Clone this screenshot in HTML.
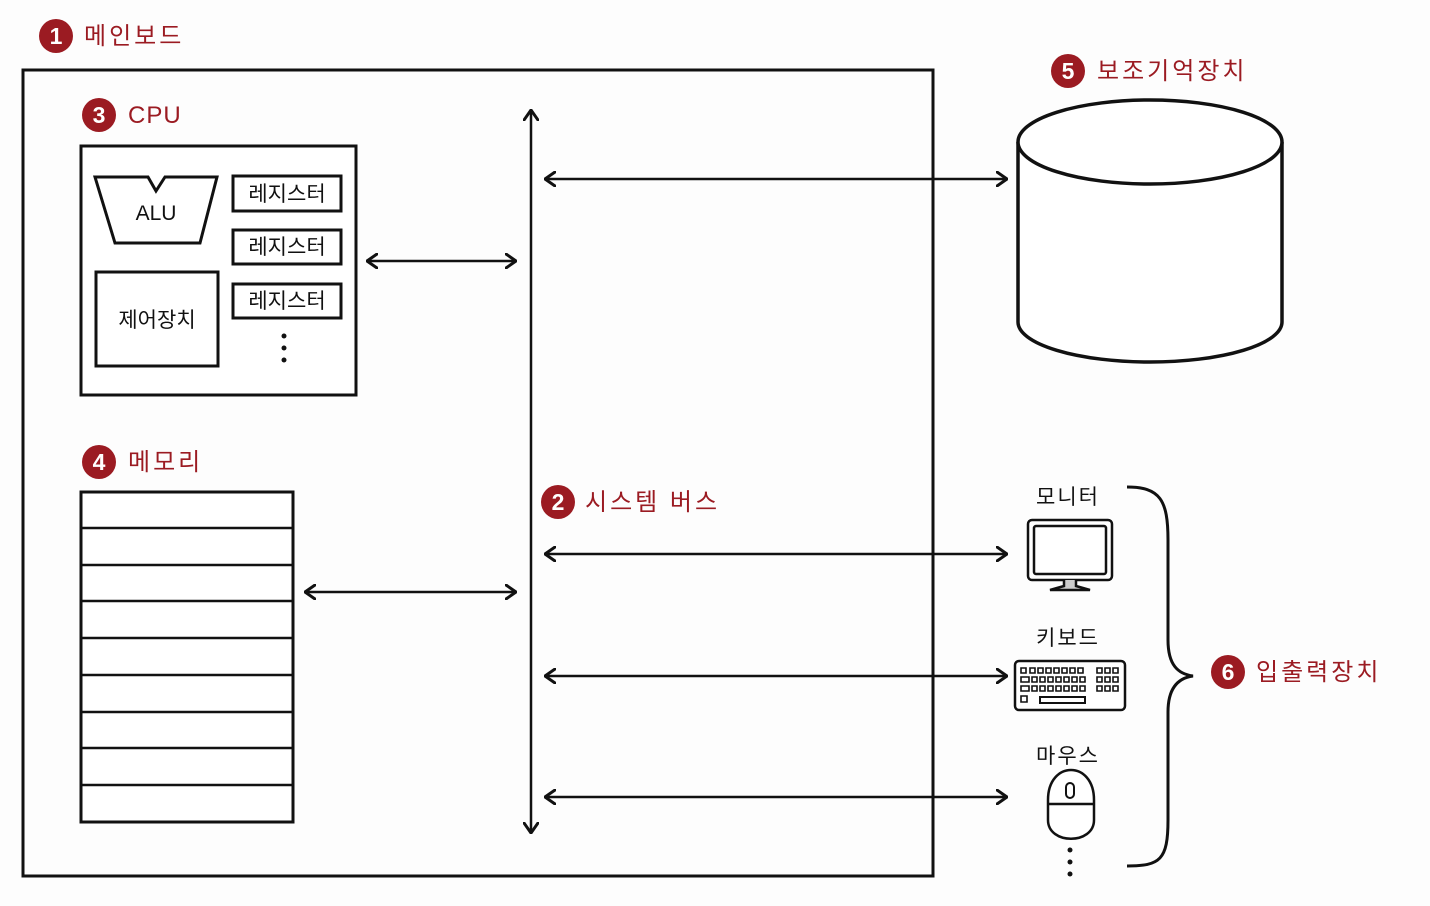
<!DOCTYPE html>
<html><head><meta charset="utf-8"><style>
html,body{margin:0;padding:0;background:#fdfdfd;}
svg{display:block}
text{font-family:"Liberation Sans","Noto Sans CJK KR",sans-serif;}
</style></head><body>
<svg width="1430" height="906" viewBox="0 0 1430 906" xmlns="http://www.w3.org/2000/svg">
<defs>
<marker id="ah" viewBox="0 0 12 16" refX="11" refY="8" markerWidth="12" markerHeight="16" markerUnits="userSpaceOnUse" orient="auto-start-reverse">
<path d="M1,1 L11,8 L1,15" fill="none" stroke="#111" stroke-width="3" stroke-linecap="round" stroke-linejoin="round"/>
</marker>
</defs>
<g fill="#fff" stroke="#111" stroke-width="3">
<rect x="23" y="70" width="910" height="806" fill="none"/>
<rect x="81" y="146" width="275" height="249"/>
<path d="M95,177 L148,177 L156,191 L165,177 L217,177 L200,243 L115,243 Z"/>
<rect x="233" y="176" width="108" height="35"/>
<rect x="233" y="230" width="108" height="34"/>
<rect x="233" y="284" width="108" height="34"/>
<rect x="96" y="272" width="122" height="94"/>
<rect x="81" y="492" width="212" height="330"/>
</g>
<g stroke="#111" stroke-width="2.5">
<line x1="81" y1="528" x2="293" y2="528"/><line x1="81" y1="565" x2="293" y2="565"/>
<line x1="81" y1="601" x2="293" y2="601"/><line x1="81" y1="638" x2="293" y2="638"/>
<line x1="81" y1="675" x2="293" y2="675"/><line x1="81" y1="712" x2="293" y2="712"/>
<line x1="81" y1="748" x2="293" y2="748"/><line x1="81" y1="785" x2="293" y2="785"/>
</g>
<g fill="#111"><circle cx="284" cy="336" r="2.5"/><circle cx="284" cy="348" r="2.5"/><circle cx="284" cy="360" r="2.5"/>
<circle cx="1070" cy="850" r="2.5"/><circle cx="1070" cy="862" r="2.5"/><circle cx="1070" cy="874" r="2.5"/></g>
<g stroke="#111" stroke-width="2.5" fill="none" marker-start="url(#ah)" marker-end="url(#ah)">
<line x1="531" y1="110" x2="531" y2="833"/>
<line x1="367" y1="261" x2="516" y2="261"/>
<line x1="305" y1="592" x2="516" y2="592"/>
<line x1="545" y1="179" x2="1007" y2="179"/>
<line x1="545" y1="554" x2="1007" y2="554"/>
<line x1="545" y1="676" x2="1007" y2="676"/>
<line x1="545" y1="797" x2="1007" y2="797"/>
</g>
<g stroke="#111" stroke-width="3.5" fill="#fff">
<path d="M1018,142 L1018,322 A132,40 0 0 0 1282,322 L1282,142"/>
<ellipse cx="1150" cy="142" rx="132" ry="42"/>
</g>
<g stroke="#111" stroke-width="2.5" fill="#fff">
<rect x="1028" y="520" width="84" height="60" rx="4"/>
<rect x="1034" y="526" width="72" height="48" rx="2"/>
<path d="M1064,580 L1064,586 L1050,590 L1090,590 L1076,586 L1076,580" fill="#ccc"/>
<rect x="1015" y="661" width="110" height="49" rx="4"/>
<rect x="1040" y="697" width="45" height="6" fill="none" stroke-width="2"/>
<path d="M1048,800 C1048,760 1094,760 1094,800 L1094,820 C1094,845 1048,845 1048,820 Z"/>
<line x1="1048" y1="804" x2="1094" y2="804"/>
<rect x="1066" y="783" width="8" height="15" rx="4" stroke-width="2"/>
</g>
<g fill="none" stroke="#111" stroke-width="1.6">
<path d="M1021,668h5v5h-5zM1030,668h5v5h-5zM1038,668h5v5h-5zM1046,668h5v5h-5zM1054,668h5v5h-5zM1062,668h5v5h-5zM1070,668h5v5h-5zM1078,668h5v5h-5z"/>
<path d="M1021,677h8v5h-8zM1032,677h5v5h-5zM1040,677h5v5h-5zM1048,677h5v5h-5zM1056,677h5v5h-5zM1064,677h5v5h-5zM1072,677h5v5h-5zM1080,677h5v5h-5z"/>
<path d="M1021,686h8v5h-8zM1032,686h5v5h-5zM1040,686h5v5h-5zM1048,686h5v5h-5zM1056,686h5v5h-5zM1064,686h5v5h-5zM1072,686h5v5h-5zM1080,686h5v5h-5z"/>
<path d="M1021,696h6v6h-6z"/>
<path d="M1097,668h5v5h-5zM1105,668h5v5h-5zM1113,668h5v5h-5zM1097,677h5v5h-5zM1105,677h5v5h-5zM1113,677h5v5h-5zM1097,686h5v5h-5zM1105,686h5v5h-5zM1113,686h5v5h-5z"/>
</g>
<path d="M1127,487 C1160,487 1168,500 1168,540 L1168,640 C1168,665 1178,674 1193,676 C1178,678 1168,688 1168,712 L1168,820 C1168,860 1160,866 1127,866" fill="none" stroke="#111" stroke-width="3"/>
<g fill="#9b1b22">
<circle cx="56" cy="36" r="17"/><circle cx="99" cy="115" r="17"/><circle cx="99" cy="462" r="17"/>
<circle cx="558" cy="502" r="17"/><circle cx="1068" cy="71" r="17"/><circle cx="1228" cy="672" r="17"/>
</g>
<g fill="#fff" font-size="23" font-weight="bold" text-anchor="middle">
<text x="56" y="44">1</text><text x="99" y="123">3</text><text x="99" y="470">4</text>
<text x="558" y="510">2</text><text x="1068" y="79">5</text><text x="1228" y="680">6</text>
</g>
<g fill="#9b1b22" font-size="24" letter-spacing="3">
<text x="84" y="44">메인보드</text>
<text x="128" y="123" letter-spacing="1">CPU</text>
<text x="128" y="470">메모리</text>
<text x="585" y="510">시스템 버스</text>
<text x="1097" y="79">보조기억장치</text>
<text x="1256" y="680">입출력장치</text>
</g>
<g fill="#111" font-size="21" text-anchor="middle">
<text x="156" y="220">ALU</text>
<text x="287" y="201">레지스터</text>
<text x="287" y="254">레지스터</text>
<text x="287" y="308">레지스터</text>
<text x="157" y="327">제어장치</text>
<text x="1068" y="504" letter-spacing="2">모니터</text>
<text x="1068" y="645" letter-spacing="2">키보드</text>
<text x="1068" y="763" letter-spacing="2">마우스</text>
</g>
</svg>
</body></html>
